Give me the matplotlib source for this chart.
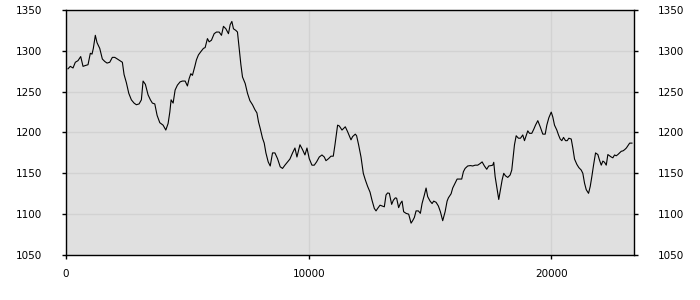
import matplotlib
matplotlib.use("Agg")
import matplotlib.pyplot as plt

x_vals = [82, 177, 289, 384, 495, 606, 701, 796, 907, 1002, 1072, 1126, 1208, 1278, 1390, 1497, 1596, 1691, 1802, 1909,
          2008, 2116, 2215, 2322, 2392, 2487, 2586, 2693, 2804, 2899, 3011, 3105, 3175, 3270, 3382, 3477, 3559, 3658, 3753, 3864,
          4000, 4112, 4206, 4277, 4330, 4413, 4495, 4590, 4701, 4796, 4908, 5002, 5073, 5143, 5209, 5308, 5374, 5456, 5555, 5662,
          5732, 5827, 5897, 5992, 6104, 6198, 6310, 6405, 6487, 6586, 6693, 6763, 6833, 6899, 6998, 7064, 7135, 7205, 7271, 7382,
          7477, 7576, 7683, 7782, 7865, 7931, 8001, 8096, 8166, 8236, 8330, 8413, 8508, 8607, 8714, 8825, 8920, 9019, 9126, 9225,
          9333, 9432, 9514, 9638, 9745, 9844, 9927, 10021, 10132, 10228, 10323, 10434, 10545, 10640, 10710, 10817, 10916, 11011, 11081, 11189,
          11259, 11370, 11506, 11601, 11741, 11807, 11918, 11972, 12054, 12153, 12248, 12331, 12426, 12525, 12607, 12702, 12772, 12838, 12937, 13020,
          13114, 13184, 13250, 13321, 13416, 13485, 13568, 13622, 13704, 13774, 13844, 13910, 14009, 14117, 14216, 14281, 14352, 14422, 14516, 14599,
          14669, 14764, 14834, 14900, 14999, 15082, 15148, 15247, 15341, 15424, 15519, 15618, 15700, 15754, 15865, 15931, 16030, 16113, 16207, 16302,
          16372, 16442, 16549, 16661, 16756, 16855, 16962, 17061, 17143, 17238, 17333, 17415, 17514, 17580, 17622, 17679, 17762, 17828, 17898, 17968,
          18034, 18104, 18199, 18298, 18364, 18406, 18476, 18546, 18640, 18723, 18818, 18888, 18958, 19024, 19094, 19189, 19271, 19342, 19437, 19536,
          19643, 19742, 19808, 19891, 19990, 20055, 20125, 20220, 20290, 20360, 20426, 20496, 20579, 20649, 20715, 20814, 20880, 20950, 21045, 21128,
          21226, 21292, 21362, 21432, 21527, 21597, 21663, 21733, 21816, 21911, 21981, 22051, 22117, 22187, 22257, 22323, 22393, 22463, 22529, 22599,
          22669, 22735, 22805, 22875, 22945, 23015, 23085, 23151, 23221, 23316]

y_vals = [1278, 1281, 1279, 1286, 1288, 1293, 1281, 1282, 1283, 1297, 1296, 1303, 1319, 1310, 1303, 1290, 1287, 1285, 1286, 1292,
          1292, 1290, 1288, 1286, 1271, 1261, 1248, 1240, 1236, 1234, 1235, 1240, 1263, 1259, 1246, 1240, 1236, 1235, 1221, 1212,
          1209, 1203, 1211, 1225, 1240, 1236, 1252, 1258, 1262, 1263, 1263, 1257, 1266, 1272, 1270, 1281, 1289, 1295, 1299, 1303,
          1304, 1315, 1311, 1313, 1321, 1323, 1323, 1319, 1330, 1327, 1321, 1332, 1336, 1327, 1325, 1323, 1303, 1283, 1268, 1260,
          1248, 1239, 1234, 1228, 1224, 1213, 1205, 1193, 1187, 1175, 1164, 1159, 1175, 1175, 1168, 1158, 1156, 1160, 1164, 1167.5,
          1175, 1181, 1170, 1185, 1179, 1172.5, 1181, 1168, 1160, 1160, 1164, 1170, 1172.5, 1170, 1165.5, 1168, 1171, 1171, 1185, 1209,
          1208, 1203, 1207, 1201, 1191, 1195, 1198, 1196, 1185, 1170, 1150, 1142, 1134, 1127, 1117, 1107, 1104, 1107, 1111, 1110,
          1109, 1123.5, 1126, 1125.5, 1112, 1117, 1120, 1119.5, 1108, 1113, 1116, 1103, 1101, 1100, 1089, 1092, 1096, 1104, 1104, 1101,
          1113, 1123.5, 1132, 1121.5, 1116, 1113, 1116, 1114.5, 1110, 1103, 1092, 1103, 1116, 1120, 1125, 1132, 1138, 1143, 1143, 1143,
          1152, 1156, 1159, 1159.5, 1159, 1160, 1160, 1162, 1164, 1159, 1155, 1159, 1159.5, 1160, 1163.5, 1146, 1130, 1118, 1130, 1142,
          1150, 1147, 1145, 1148, 1154, 1166, 1185, 1196, 1193, 1193, 1197, 1190, 1196, 1202, 1199, 1199, 1204, 1209, 1214.5, 1207,
          1198, 1198, 1209, 1218, 1225, 1219, 1209, 1203, 1197, 1192, 1190, 1194, 1190, 1190, 1193, 1192, 1181, 1167.5, 1161, 1157,
          1154, 1150, 1138, 1130, 1125.5, 1134, 1146, 1160, 1175, 1173, 1166, 1160, 1165, 1163.5, 1160, 1173, 1171.5, 1170, 1169, 1172.5,
          1171.5, 1173, 1175, 1177, 1177.5, 1179, 1181, 1184, 1187, 1187]

y_ticks = [1050, 1100, 1150, 1200, 1250, 1300, 1350]
x_ticks = [0, 10000, 20000]

fig = plt.figure(figsize=(7, 3), dpi=100)
ax = fig.add_axes([66 / 700, 1 - 255 / 300, (634 - 66) / 700, (255 - 10) / 300])
ax.set_facecolor("#e0e0e0")
ax.plot(x_vals, y_vals, color="black", linewidth=0.8)

ax.set_xlim(0, 23400)
ax.set_ylim(1050, 1350)
ax.set_xticks(x_ticks)
ax.set_xticklabels([str(v) for v in x_ticks])
ax.set_yticks(y_ticks)
ax.set_yticklabels([str(v) for v in y_ticks])

ax.grid(True, color="#d2d2d2", linewidth=1.0)
ax.set_axisbelow(True)
for s in ax.spines.values():
    s.set_color("black")
    s.set_linewidth(1.0)

ax.tick_params(axis="y", which="both", direction="out", length=3, width=1,
               left=True, right=True, labelleft=True, labelright=True,
               labelsize=7.5, colors="black", pad=14.5)
ax.tick_params(axis="x", direction="out", length=3, width=1, labelsize=7.5, pad=7, colors="black")

fig.savefig("out.png", dpi=100)
